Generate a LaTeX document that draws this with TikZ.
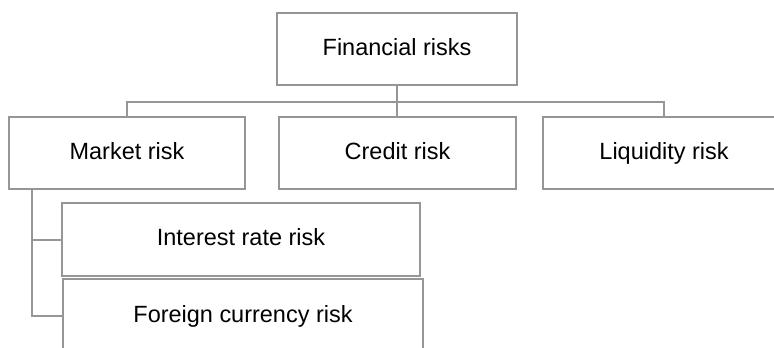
\documentclass[tikz,border=0pt]{standalone}
\usepackage{fontspec}
\setmainfont{Liberation Sans}
\definecolor{LineGray}{RGB}{150, 150, 150}
\usetikzlibrary{positioning}

\begin{document}
\begin{tikzpicture}[
            x=0.75pt, y=-0.75pt,
            riskbox/.style={rectangle, draw=LineGray, line width=1.5pt, fill=white, minimum height=54pt, text height=12.6pt, text depth=3.6pt, align=center, font=\fontsize{17.6}{21}\selectfont},
            link/.style={draw=LineGray, line width=1.5pt},
        ]
            \useasboundingbox (0,0) rectangle (774,347);
            \clip (0,0) rectangle (774,347);
            \node[riskbox, minimum width=180pt] (fin) at (397,49) {Financial risks};
            \node[riskbox, minimum width=177pt] (market) at (127,153) {Market risk};
            \node[riskbox, minimum width=178pt] (credit) at (397.5,153) {Credit risk};
            \node[riskbox, minimum width=181pt] (liquidity) at (664,153) {Liquidity risk};
            \node[riskbox, minimum width=268.5pt, minimum height=55pt] (interest) at (241,239.5) {Interest rate risk};
            \node[riskbox, minimum width=270pt, minimum height=55.5pt] (foreign) at (243,316) {Foreign currency risk};
            % tree connectors
            \coordinate (bus) at (397,102);
            \coordinate (mspine) at ([xshift=18pt]market.south west);
            \draw[link] (fin.south) -- (bus);
            \draw[link] (bus) -- (bus |- credit.north);
            \draw[link] (market.north) |- (bus) -| (liquidity.north);
            \draw[link] (mspine) |- (interest.west);
            \draw[link] (mspine) |- (foreign.west);
        \end{tikzpicture}
\end{document}
